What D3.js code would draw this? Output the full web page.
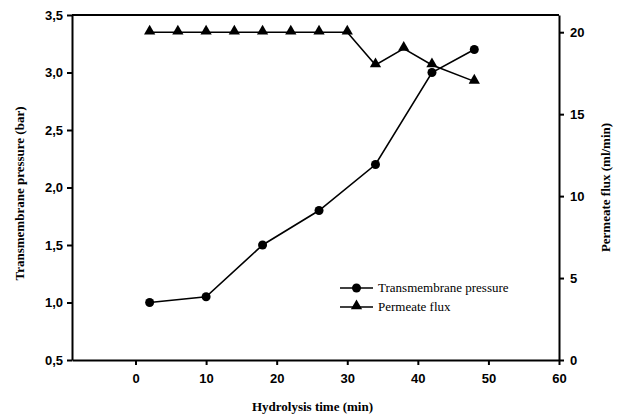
<!DOCTYPE html>
<html>
<head>
<meta charset="utf-8">
<script src="https://cdn.jsdelivr.net/npm/d3@7"></script>
<style>
	body { margin: 0; background: #fff; }
	.axis path, .axis line { stroke: #000; stroke-width: 2; }
	.axis text { font: bold 13px "Liberation Sans", Arial, sans-serif; fill: #000; }
</style>
</head>
<body>
<svg id="chart" width="623" height="417"></svg>
<script>
	// data
	var pressureTime = [2, 10, 18, 26, 34, 42, 48];
	var pressureBar = [1.0, 1.05, 1.5, 1.8, 2.2, 3.0, 3.2];
	var fluxTime = [2, 6, 10, 14, 18, 22, 26, 30, 34, 38, 42, 48];
	var fluxValue = [20, 20, 20, 20, 20, 20, 20, 20, 18, 19, 18, 17];
	var xTicks = [0, 10, 20, 30, 40, 50, 60];
	var leftTicks = [0.5, 1.0, 1.5, 2.0, 2.5, 3.0, 3.5];
	var rightTicks = [0, 5, 10, 15, 20];

	var svg = d3.select("#chart");
	var margin = {top: 15, right: 64, bottom: 57, left: 72},
		width = 623 - margin.left - margin.right,
		height = 417 - margin.top - margin.bottom;

	var g = svg.append("g").attr("transform", "translate(" + margin.left + "," + margin.top + ")");

	var x = d3.scaleLinear().domain([-9, 60]).range([0, width]);
	var yL = d3.scaleLinear().domain([0.5, 3.5]).range([height, 0]);
	var yR = d3.scaleLinear().domain([0, 21.05]).range([height, 0]);

	// frame top line
	g.append("line").attr("x1", 0).attr("x2", width).attr("y1", 0).attr("y2", 0)
		.attr("stroke", "#000").attr("stroke-width", 2);

	g.append("g").attr("class", "axis")
		.attr("transform", "translate(0," + height + ")")
		.call(d3.axisBottom(x).tickValues(xTicks).tickSize(5).tickPadding(9).tickSizeOuter(0));

	g.append("g").attr("class", "axis")
		.call(d3.axisLeft(yL).tickValues(leftTicks).tickSize(5).tickPadding(4).tickSizeOuter(0)
			.tickFormat(function(d){ return d3.format(".1f")(d).replace(".", ","); }));

	g.append("g").attr("class", "axis")
		.attr("transform", "translate(" + width + ",0)")
		.call(d3.axisRight(yR).tickValues(rightTicks).tickSize(5).tickPadding(6).tickSizeOuter(0));

	var pData = pressureTime.map(function(t, i){ return {t: t, v: pressureBar[i]}; });
	var fData = fluxTime.map(function(t, i){ return {t: t, v: fluxValue[i]}; });

	g.append("path").datum(fData)
		.attr("fill", "none").attr("stroke", "#000").attr("stroke-width", 1.6)
		.attr("d", d3.line().x(function(d){ return x(d.t); }).y(function(d){ return yR(d.v); }));

	g.append("path").datum(pData)
		.attr("fill", "none").attr("stroke", "#000").attr("stroke-width", 1.6)
		.attr("d", d3.line().x(function(d){ return x(d.t); }).y(function(d){ return yL(d.v); }));

	var tri = d3.symbol().type(d3.symbolTriangle).size(55);

	g.selectAll(".tri").data(fData).enter().append("path")
		.attr("d", tri)
		.attr("transform", function(d){ return "translate(" + x(d.t) + "," + (yR(d.v) - 1) + ")"; })
		.attr("fill", "#000");

	g.selectAll(".dot").data(pData).enter().append("circle")
		.attr("cx", function(d){ return x(d.t); })
		.attr("cy", function(d){ return yL(d.v); })
		.attr("r", 4.5)
		.attr("fill", "#000");

	// legend
	var legend = svg.append("g").attr("transform", "translate(340,288)");
	var keys = ["Transmembrane pressure", "Permeate flux"];
	keys.forEach(function(k, i){
		var row = legend.append("g").attr("transform", "translate(0," + (i * 19) + ")");
		row.append("line").attr("x1", 0).attr("x2", 33).attr("stroke", "#000").attr("stroke-width", 1.6);
		if (i === 0) row.append("circle").attr("cx", 16.5).attr("r", 4.5).attr("fill", "#000");
		else row.append("path").attr("d", tri).attr("transform", "translate(16.5,-1)").attr("fill", "#000");
		row.append("text").attr("x", 38).attr("y", 4)
			.style("font", "13px 'Liberation Serif', 'Times New Roman', serif")
			.text(k);
	});

	// axis titles
	svg.append("text")
		.attr("transform", "translate(24," + (margin.top + height / 2 + 6) + ") rotate(-90)")
		.attr("text-anchor", "middle")
		.style("font", "bold 13px 'Liberation Serif', 'Times New Roman', serif")
		.text("Transmembrane pressure (bar)");

	svg.append("text")
		.attr("transform", "translate(610," + (margin.top + height / 2) + ") rotate(-90)")
		.attr("text-anchor", "middle")
		.style("font", "bold 13px 'Liberation Serif', 'Times New Roman', serif")
		.text("Permeate flux (ml/min)");

	svg.append("text")
		.attr("x", margin.left + width / 2 - 3).attr("y", 411)
		.attr("text-anchor", "middle")
		.style("font", "bold 13px 'Liberation Serif', 'Times New Roman', serif")
		.text("Hydrolysis time (min)");
</script>
</body>
</html>
